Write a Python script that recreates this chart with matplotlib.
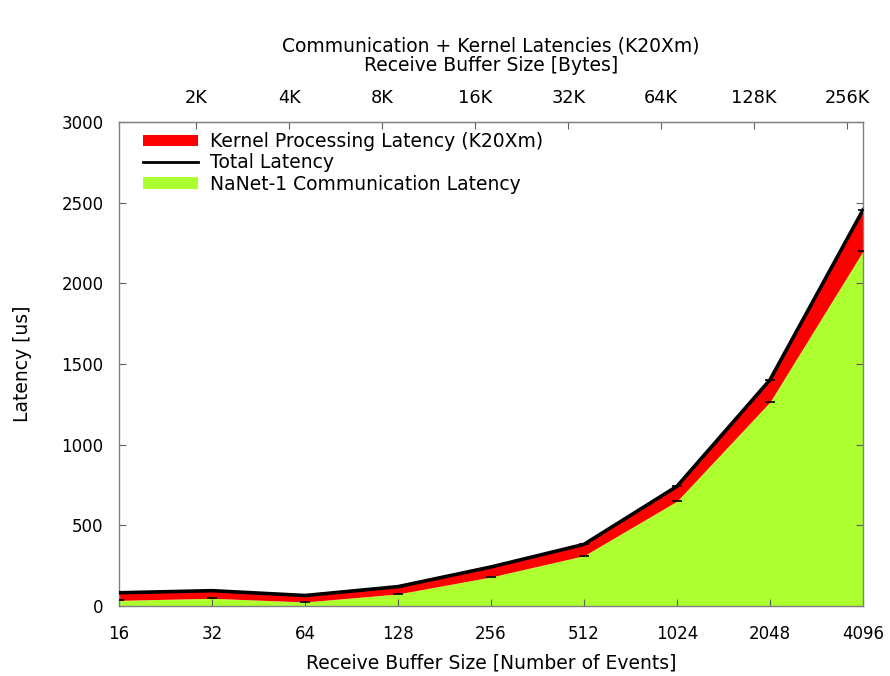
import matplotlib
matplotlib.use("Agg")
import matplotlib.pyplot as plt
from matplotlib.patches import Patch
from matplotlib.lines import Line2D
import numpy as np

plt.rcParams['font.family'] = ['DejaVu Sans']

# Receive buffer size in number of events
events = [16, 32, 64, 128, 256, 512, 1024, 2048, 4096]
# NaNet-1 communication latency [us]
comm_latency = [35, 48, 25, 75, 180, 312, 650, 1265, 2200]
# GPU kernel processing latency on K20Xm [us]
kernel_latency = [47, 47, 40, 45, 62, 70, 92, 137, 255]

bytes_per_event = 72
byte_ticks = [2048, 4096, 8192, 16384, 32768, 65536, 131072, 262144]
byte_labels = ['2K', '4K', '8K', '16K', '32K', '64K', '128K', '256K']
y_ticks = [0, 500, 1000, 1500, 2000, 2500, 3000]

comm = np.array(comm_latency, dtype=float)
total = comm + np.array(kernel_latency, dtype=float)

green = '#adff2f'
red = '#ff0000'
spine_gray = '#808080'
fs_tick = 12
fs_text = 13.5

fig = plt.figure(figsize=(8.9, 6.76), dpi=100)
ax = fig.add_axes([119 / 890, 1 - 606 / 676, (863 - 119) / 890, (606 - 122) / 676])

ax.set_xscale('log', base=2)
ax.fill_between(events, 0, comm, color=green, linewidth=0, zorder=1)
ax.fill_between(events, comm, total, color=red, linewidth=0, zorder=2)
ax.plot(events, total, color='black', linewidth=2.6, zorder=3, solid_joinstyle='miter')
# small measurement caps at every sample
ax.plot(events, comm, linestyle='none', marker='_', markersize=7, color='black',
        markeredgewidth=1.2, zorder=4)
ax.plot(events, total, linestyle='none', marker='_', markersize=7, color='black',
        markeredgewidth=1.2, zorder=4)

ax.set_xlim(16, 4096)
ax.set_ylim(0, 3000)
ax.set_xticks(events)
ax.set_xticklabels([str(e) for e in events])
ax.xaxis.set_minor_locator(matplotlib.ticker.NullLocator())
ax.set_yticks(y_ticks)
ax.set_yticklabels([str(v) for v in y_ticks])

for s in ax.spines.values():
    s.set_color(spine_gray)
    s.set_linewidth(1.0)

ax.tick_params(axis='x', which='major', direction='in', length=5, width=0.8,
               color='#606060', labelsize=fs_tick, pad=14, top=False, bottom=True)
ax.tick_params(axis='y', which='major', direction='in', length=5, width=0.8,
               color='#606060', labelsize=fs_tick, pad=11, left=True, right=True)

sec = ax.secondary_xaxis('top', functions=(lambda x: x * bytes_per_event,
                                            lambda b: b / bytes_per_event))
sec.set_xscale('log', base=2)
sec.set_xticks(byte_ticks)
sec.set_xticklabels(byte_labels)
sec.xaxis.set_minor_locator(matplotlib.ticker.NullLocator())
sec.tick_params(axis='x', which='major', direction='in', length=5, width=0.8,
                color='#606060', labelsize=12.8, pad=11)
sec.spines['top'].set_color(spine_gray)
sec.set_xlabel('Receive Buffer Size [Bytes]', fontsize=fs_text, labelpad=12.5)

ax.set_xlabel('Receive Buffer Size [Number of Events]', fontsize=fs_text, labelpad=7)
ax.set_ylabel('Latency [us]', fontsize=fs_text, labelpad=21.5)

fig.text(491 / 890, 1 - 46.5 / 676, 'Communication + Kernel Latencies (K20Xm)',
         ha='center', va='center', fontsize=fs_text)

handles = [Patch(facecolor=red, edgecolor='none'),
           Line2D([], [], color='black', linewidth=2),
           Patch(facecolor=green, edgecolor='none')]
labels = ['Kernel Processing Latency (K20Xm)', 'Total Latency',
          'NaNet-1 Communication Latency']
leg = ax.legend(handles, labels, loc='upper left', frameon=False, fontsize=fs_text,
                handlelength=2.93, handleheight=0.55, handletextpad=0.64,
                labelspacing=0.12, borderaxespad=0.3,
                bbox_to_anchor=(0.0145, 1.006))

fig.savefig('out.png', dpi=100)
